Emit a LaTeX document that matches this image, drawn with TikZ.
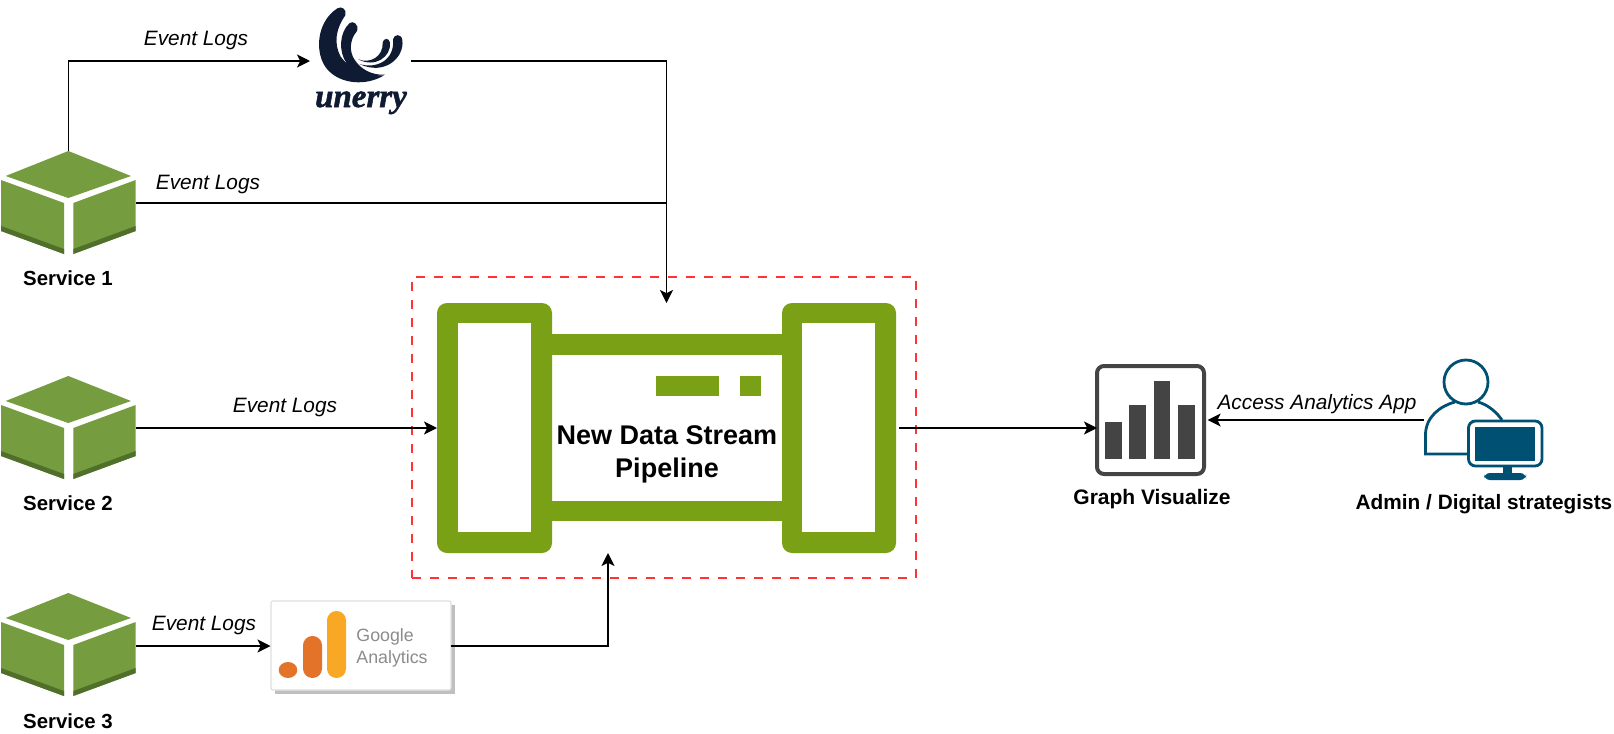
\documentclass[tikz,border=0pt]{standalone}
\usepackage{fontspec}
\setmainfont{Liberation Sans}
\newfontfamily\logofont[BoldItalicFeatures={FakeBold=1.5}]{Liberation Serif}
\usetikzlibrary{arrows.meta,calc}
\definecolor{cubegreen}{HTML}{759C3E}
\definecolor{cubedark}{HTML}{4F6F2B}
\definecolor{pipegreen}{HTML}{7AA116}
\definecolor{logonavy}{HTML}{0F1B33}
\definecolor{teal}{HTML}{005073}
\definecolor{iconGray}{HTML}{444444}
\definecolor{boxred}{HTML}{FF3333}
\definecolor{gaYellow}{HTML}{F9A825}
\definecolor{gaOrange}{HTML}{E37329}
\tikzset{
  hold/.style={inner sep=0pt,outer sep=0pt,minimum width=#1},
  conn/.style={draw=black,line width=0.75pt,-{Stealth[length=6.5pt,width=6.5pt,inset=1.6pt]}},
  plainconn/.style={draw=black,line width=0.75pt},
  svclabel/.style={font=\fontsize{10.2pt}{12pt}\selectfont\bfseries,inner sep=0pt},
  edgelabel/.style={font=\fontsize{10.4pt}{12pt}\selectfont\itshape,inner sep=0pt},
  personline/.style={draw=teal,line width=1.4pt},
  cubeicon/.pic={
    \fill[cubegreen] (68.3,0) -- (131,25) -- (68.3,47) -- (5.7,25) -- cycle;
    \fill[cubegreen] (1,29) -- (64,52) -- (64,103) -- (1,80) -- cycle;
    \fill[cubegreen] (73.3,52) -- (135.7,29) -- (135.7,80) -- (73.3,103) -- cycle;
    \fill[cubedark] (1,75) -- (64,98) -- (64,103) -- (1,80) -- cycle;
    \fill[cubedark] (135.7,75) -- (73.3,98) -- (73.3,103) -- (135.7,80) -- cycle;
  }
}
\begin{document}
\begin{tikzpicture}[x=0.5pt,y=-0.5pt]
\useasboundingbox (0,0) rectangle (1614,734);
\fill[white] (0,0) rectangle (1614,734);

% anchors for the icons
\node[hold=67.5pt,minimum height=52pt] (s1) at (68.4,203) {};
\node[hold=67.5pt,minimum height=52pt] (s2) at (68.4,428) {};
\node[hold=67.5pt,minimum height=52pt] (s3) at (68.4,646) {};
\node[hold=50.5pt,minimum height=54pt] (unerry) at (360.5,61) {};
\node[hold=229.5pt,minimum height=125pt] (pipe) at (666.5,428) {};
\node[hold=90pt,minimum height=44.5pt] (ga) at (360.5,646) {};

% services
\pic at (0,151) {cubeicon};
\pic at (0,376) {cubeicon};
\pic at (0,593) {cubeicon};
\node[svclabel] (s1l) at (68,278) {Service 1};
\node[svclabel] (s2l) at (68,503) {Service 2};
\node[svclabel] (s3l) at (68,721) {Service 3};

% unerry logo
\begin{scope}[shift={(300,0)},x=0.1667pt,y=-0.1667pt]
  \fill[logonavy] (112,25) .. controls (124,17) and (142,28) .. (136,46)
     .. controls (108,85) and (100,130) .. (122,170)
     .. controls (147,205) and (195,228) .. (252,226)
     .. controls (200,258) and (122,254) .. (82,208)
     .. controls (44,165) and (46,68) .. (112,25) -- cycle;
  \fill[logonavy] (148,70) .. controls (158,60) and (178,73) .. (171,93)
     .. controls (148,120) and (148,155) .. (163,178)
     .. controls (182,208) and (215,226) .. (255,224)
     .. controls (210,234) and (162,224) .. (140,190)
     .. controls (115,155) and (118,98) .. (148,70) -- cycle;
  \fill[logonavy] (279,118) .. controls (282,102) and (304,100) .. (307,120)
     .. controls (314,172) and (255,228) .. (178,192)
     .. controls (230,208) and (285,180) .. (279,118) -- cycle;
  \fill[logonavy] (248,128) .. controls (250,113) and (268,113) .. (270,128)
     .. controls (274,170) and (225,205) .. (175,178)
     .. controls (210,192) and (250,170) .. (248,128) -- cycle;
\end{scope}
\node[font=\logofont\fontsize{16.5pt}{18pt}\selectfont\bfseries\itshape,text=logonavy,inner sep=0pt,anchor=base] (unerrytxt) at (361,107) {unerry};

% dashed boundary
\node[draw=boxred,line width=1.4pt,dash pattern=on 4.5pt off 4.5pt,inner sep=0pt,outer sep=0pt,minimum width=252pt,minimum height=150.5pt] (bound) at (664,427.5) {};

% pipeline icon
\fill[pipegreen,rounded corners=5pt] (437,303) rectangle (552,553);
\fill[pipegreen,rounded corners=5pt] (782,303) rectangle (896,553);
\fill[pipegreen] (552,334) rectangle (782,355);
\fill[pipegreen] (552,501) rectangle (782,521);
\fill[white] (458,323) rectangle (531,532);
\fill[white] (802,323) rectangle (875,532);
\fill[pipegreen] (656,376) rectangle (719,396);
\fill[pipegreen] (740,376) rectangle (761,396);
\node[font=\fontsize{13.5pt}{16.4pt}\selectfont\bfseries,align=center,inner sep=0pt] (pipelabel) at (667,454) {New Data Stream\\Pipeline};

% Google Analytics tile
\fill[black!25] (275,605) rectangle (455,694);
\draw[draw=black!12,fill=white,line width=0.6pt,rounded corners=1pt] (271,601) rectangle (451,690);
\fill[gaYellow,rounded corners=4.7pt] (327,611) rectangle (346,678);
\fill[gaOrange,rounded corners=4.7pt] (303,636) rectangle (322,678);
\fill[gaOrange] (288,670) ellipse [x radius=9.3,y radius=8];
\node[font=\fontsize{8.9pt}{11pt}\selectfont,text=black!45,align=left,inner sep=0pt,anchor=west] (gatxt) at (356,648) {Google\\Analytics};

% graph icon
\node[draw=iconGray,line width=2pt,rounded corners=3.5pt,inner sep=0pt,outer sep=0pt,minimum width=53.5pt,minimum height=54pt] (graph) at (1150.5,420) {};
\fill[iconGray] (1105,422) rectangle (1122,459);
\fill[iconGray] (1129,405) rectangle (1146,459);
\fill[iconGray] (1154,381) rectangle (1170,459);
\fill[iconGray] (1178,405) rectangle (1195,459);
\node[svclabel,font=\fontsize{10.5pt}{12pt}\selectfont\bfseries] (graphl) at (1152,499.5) {Graph Visualize};

% person icon
\node[hold=59.5pt,minimum height=60pt] (person) at (1483.5,420) {};
\draw[personline] (1466,382) circle [radius=22];
\draw[personline] (1467,454) -- (1425.5,454) -- (1425.5,435)
   .. controls (1425.5,417) and (1440,406) .. (1455,402);
\draw[personline] (1478,402) .. controls (1489,405) and (1497,413) .. (1502,420);
\draw[personline,fill=white,rounded corners=3.5pt] (1468.5,421) rectangle (1542,466);
\fill[teal] (1475,427) rectangle (1535,461);
\fill[teal] (1503,467) rectangle (1512,475);
\fill[teal,rounded corners=3pt] (1484,473) rectangle (1526,480);
\node[svclabel,font=\fontsize{10.4pt}{12pt}\selectfont\bfseries] (personl) at (1484,504) {Admin / Digital strategists};

% connectors
\draw[conn] (s1.north) |- (unerry.west);
\draw[conn] (unerry.east) -| (pipe.north);
\draw[plainconn] (s1.east) -- (s1.east -| pipe.north);
\draw[conn] (s2.east) -- (pipe.west);
\draw[conn] (s3.east) -- (ga.west);
\coordinate (pipein) at ($(pipe.south)+(-58.5,0)$);
\draw[conn] (ga.east) -| (pipein);
\draw[conn,shorten <=1.5pt] (pipe.east) -- (pipe.east -| graph.west);
\draw[conn,shorten >=1.8pt] (person.west) -- (graph.east);

% edge labels
\node[edgelabel] (e1) at (196,41) {Event Logs};
\node[edgelabel] (e2) at (208,184) {Event Logs};
\node[edgelabel] (e3) at (285,407) {Event Logs};
\node[edgelabel] (e4) at (204,625) {Event Logs};
\node[edgelabel] (e5) at (1317,404) {Access Analytics App};
\end{tikzpicture}
\end{document}
